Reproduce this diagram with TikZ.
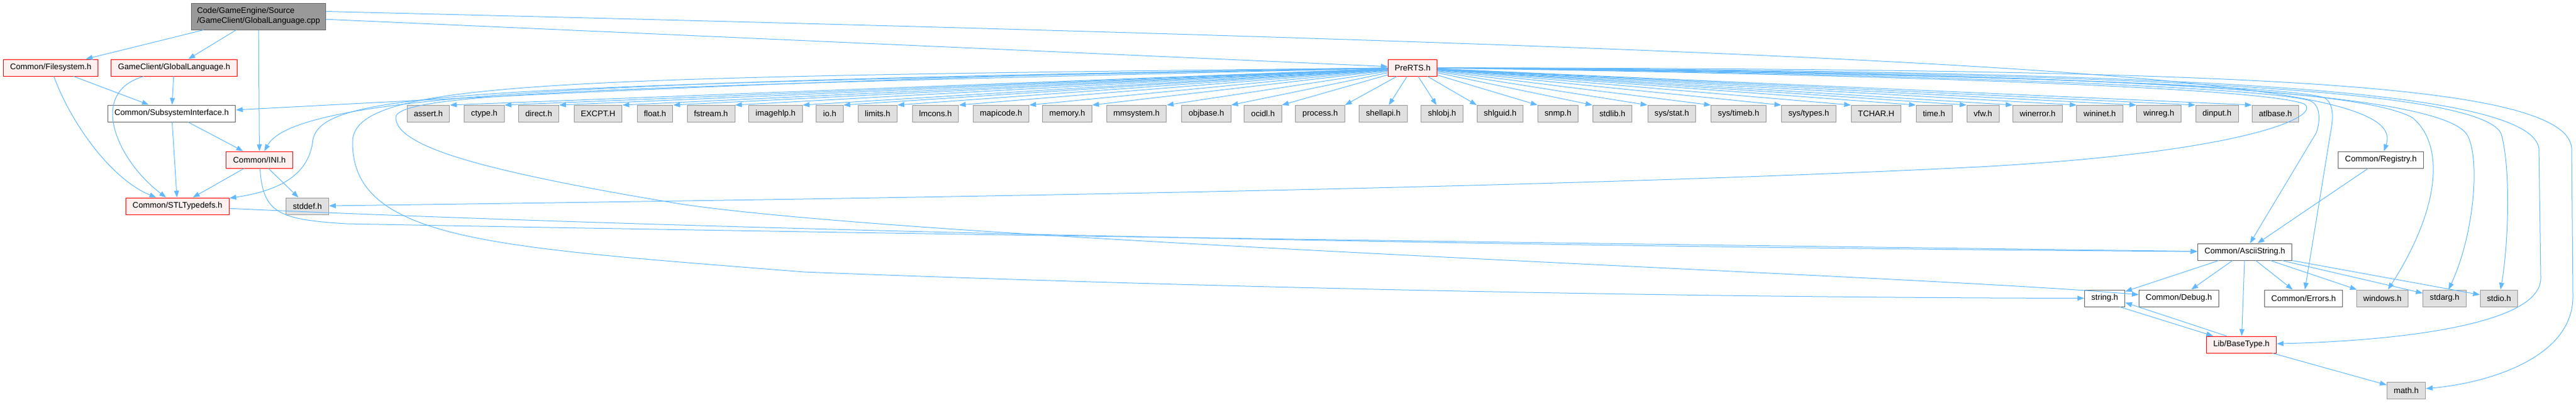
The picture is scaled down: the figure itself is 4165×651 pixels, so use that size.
\documentclass[tikz,border=0pt]{standalone}
\usepackage{fontspec}
\setmainfont{Liberation Sans}
\usetikzlibrary{arrows.meta}
\definecolor{edgeblue}{HTML}{63B8FF}
\definecolor{sysfill}{HTML}{E0E0E0}
\definecolor{sysborder}{HTML}{999999}
\definecolor{redfill}{HTML}{FFF0F0}
\definecolor{ownborder}{HTML}{666666}
\definecolor{rootfill}{HTML}{999999}
\begin{document}
\begin{tikzpicture}[x=1pt,y=-1pt,font=\fontsize{13.2}{16}\selectfont]
        \tikzstyle{hdr}=[draw,line width=1pt,rectangle,inner xsep=11pt,inner ysep=0pt,minimum height=27pt]
        \tikzstyle{sysfile}=[hdr,draw=sysborder,fill=sysfill]
        \tikzstyle{redfile}=[hdr,draw=red,fill=redfill]
        \tikzstyle{ownfile}=[hdr,draw=ownborder,fill=white]
        \tikzstyle{rootfile}=[hdr,draw=ownborder,fill=rootfill,align=left,inner xsep=9pt,minimum height=43pt]
        \tikzstyle{dep}=[draw=edgeblue,line width=1pt,-{Triangle[length=11pt,width=8pt]}]

        \useasboundingbox (0,0) rectangle (4165,651);

        \draw (418,26.5) node[rootfile] (cpp) {Code/GameEngine/Source\\/GameClient/GlobalLanguage.cpp};
        \draw (82,109.5) node[redfile] (fs) {Common/Filesystem.h};
        \draw (281.5,109.5) node[redfile] (gl) {GameClient/GlobalLanguage.h};
        \draw (2284,109.5) node[redfile] (pre) {PreRTS.h};
        \draw (277.5,183.5) node[ownfile] (si) {Common/SubsystemInterface.h};
        \draw (419.5,258.5) node[redfile] (ini) {Common/INI.h};
        \draw (3849.5,258.5) node[ownfile] (reg) {Common/Registry.h};
        \draw (287,333.5) node[redfile] (stl) {Common/STLTypedefs.h};
        \draw (497,333.5) node[sysfile] (stddef) {stddef.h};
        \draw (3629.5,407.5) node[ownfile] (ascii) {Common/AsciiString.h};
        \draw (3403,482.5) node[ownfile] (string) {string.h};
        \draw (3523,482.5) node[ownfile] (debug) {Common/Debug.h};
        \draw (3724.5,482.5) node[ownfile] (errors) {Common/Errors.h};
        \draw (3852,482.5) node[sysfile] (windows) {windows.h};
        \draw (3952.5,482.5) node[sysfile] (stdarg) {stdarg.h};
        \draw (4040.5,482.5) node[sysfile] (stdio) {stdio.h};
        \draw (3624,557.5) node[redfile] (basetype) {Lib/BaseType.h};
        \draw (3890.5,631.5) node[sysfile] (math) {math.h};

        \draw (692.5,184) node[sysfile] (assert) {assert.h};
        \draw (783,184) node[sysfile] (ctype) {ctype.h};
        \draw (871,184) node[sysfile] (direct) {direct.h};
        \draw (967,184) node[sysfile] (excpt) {EXCPT.H};
        \draw (1059,184) node[sysfile] (float) {float.h};
        \draw (1149.5,184) node[sysfile] (fstream) {fstream.h};
        \draw (1254,184) node[sysfile] (imagehlp) {imagehlp.h};
        \draw (1341.5,184) node[sysfile] (io) {io.h};
        \draw (1419,184) node[sysfile] (limits) {limits.h};
        \draw (1512.5,184) node[sysfile] (lmcons) {lmcons.h};
        \draw (1618.5,184) node[sysfile] (mapicode) {mapicode.h};
        \draw (1725.5,184) node[sysfile] (memory) {memory.h};
        \draw (1837.5,184) node[sysfile] (mmsystem) {mmsystem.h};
        \draw (1950.5,184) node[sysfile] (objbase) {objbase.h};
        \draw (2042,184) node[sysfile] (ocidl) {ocidl.h};
        \draw (2134.5,184) node[sysfile] (process) {process.h};
        \draw (2236.5,184) node[sysfile] (shellapi) {shellapi.h};
        \draw (2331.5,184) node[sysfile] (shlobj) {shlobj.h};
        \draw (2425.5,184) node[sysfile] (shlguid) {shlguid.h};
        \draw (2519,184) node[sysfile] (snmp) {snmp.h};
        \draw (2607,184) node[sysfile] (stdlib) {stdlib.h};
        \draw (2703,184) node[sysfile] (sysstat) {sys/stat.h};
        \draw (2811,184) node[sysfile] (systimeb) {sys/timeb.h};
        \draw (2924.5,184) node[sysfile] (systypes) {sys/types.h};
        \draw (3033.5,184) node[sysfile] (tchar) {TCHAR.H};
        \draw (3127,184) node[sysfile] (time) {time.h};
        \draw (3206,184) node[sysfile] (vfw) {vfw.h};
        \draw (3294.5,184) node[sysfile] (winerror) {winerror.h};
        \draw (3395,184) node[sysfile] (wininet) {wininet.h};
        \draw (3490.5,184) node[sysfile] (winreg) {winreg.h};
        \draw (3584.5,184) node[sysfile] (dinput) {dinput.h};
        \draw (3679,184) node[sysfile] (atlbase) {atlbase.h};

        \draw[dep] (cpp) -- (fs);
        \draw[dep] (cpp) -- (gl);
        \draw[dep] (cpp) -- (ini);
        \draw[dep] (cpp) -- (pre);
        \draw[dep] ([yshift=8pt]cpp.east) .. controls (3400,88) and (3895,130) .. (reg);

        \draw[dep] (fs) -- (si);
        \draw[dep] (fs) .. controls (115,200) and (180,290) .. (stl);
        \draw[dep] (gl) -- (si);
        \draw[dep] (gl) .. controls (140,150) and (190,260) .. (stl);
        \draw[dep] (si) -- (ini);
        \draw[dep] (si) -- (stl);
        \draw[dep] (ini) -- (stl);
        \draw[dep] (ini) -- (stddef);
        \draw[dep] (ini) .. controls (425,345) and (450,355) .. (560,362) .. controls (1500,380) and (3000,400) .. (ascii);
        \draw[dep] (stl) .. controls (1200,375) and (2500,400) .. (ascii);

        \draw[dep] (pre) .. controls (1500,120) and (900,150) .. (si);
        \draw[dep] (pre) .. controls (1000,130) and (480,150) .. (ini);
        \draw[dep] (pre) .. controls (700,140) and (510,150) .. (505,233) .. controls (495,290) and (440,310) .. (stl);
        \draw[dep] (pre) .. controls (3000,120) and (3650,140) .. (3725,168) .. controls (3755,185) and (3650,245) .. (3200,270) .. controls (2500,305) and (1500,320) .. (stddef);
        \draw[dep] (pre) .. controls (900,125) and (570,130) .. (570,230) .. controls (570,390) and (800,400) .. (1300,440) .. controls (2200,475) and (3000,482) .. (string);
        \draw[dep] (pre) .. controls (1000,140) and (640,150) .. (640,190) .. controls (640,240) and (800,280) .. (1100,330) .. controls (1500,390) and (3100,445) .. (debug);
        \draw[dep] (pre) .. controls (3000,118) and (3650,138) .. (3735,163) .. controls (3752,170) and (3752,195) .. (3745,215) -- (ascii);
        \draw[dep] (pre) .. controls (3000,117) and (3680,134) .. (3758,158) .. controls (3775,168) and (3772,195) .. (3768,215) -- (errors);
        \draw[dep] (pre) .. controls (3200,118) and (3800,135) .. (3900,190) .. controls (3950,230) and (3950,330) .. (windows);
        \draw[dep] (pre) .. controls (3300,118) and (3950,140) .. (3990,220) .. controls (4010,260) and (4000,380) .. (stdarg);
        \draw[dep] (pre) .. controls (3400,117) and (4030,140) .. (4045,220) .. controls (4060,280) and (4055,400) .. (stdio);
        \draw[dep] (pre) .. controls (3500,115) and (4090,140) .. (4105,240) -- (4108,450) .. controls (4108,530) and (3850,552) .. (basetype);
        \draw[dep] (pre) .. controls (3600,112) and (4150,130) .. (4158,240) -- (4160,480) .. controls (4160,580) and (4020,620) .. (math);

        \draw[dep] (pre) -- (assert.north east);
        \draw[dep] (pre) -- (ctype.north east);
        \draw[dep] (pre) -- (direct.north east);
        \draw[dep] (pre) -- (excpt.north east);
        \draw[dep] (pre) -- (float.north east);
        \draw[dep] (pre) -- (fstream.north east);
        \draw[dep] (pre) -- (imagehlp.north east);
        \draw[dep] (pre) -- (io.north east);
        \draw[dep] (pre) -- (limits.north east);
        \draw[dep] (pre) -- (lmcons.north east);
        \draw[dep] (pre) -- (mapicode.north east);
        \draw[dep] (pre) -- (memory.north east);
        \draw[dep] (pre) -- (mmsystem.north east);
        \draw[dep] (pre) -- (objbase.north east);
        \draw[dep] (pre) -- (ocidl.north east);
        \draw[dep] (pre) -- (process.north east);
        \draw[dep] (pre) -- (shellapi);
        \draw[dep] (pre) -- (shlobj);
        \draw[dep] (pre) -- (shlguid.north west);
        \draw[dep] (pre) -- (snmp.north west);
        \draw[dep] (pre) -- (stdlib.north west);
        \draw[dep] (pre) -- (sysstat.north west);
        \draw[dep] (pre) -- (systimeb.north west);
        \draw[dep] (pre) -- (systypes.north west);
        \draw[dep] (pre) -- (tchar.north west);
        \draw[dep] (pre) -- (time.north west);
        \draw[dep] (pre) -- (vfw.north west);
        \draw[dep] (pre) -- (winerror.north west);
        \draw[dep] (pre) -- (wininet.north west);
        \draw[dep] (pre) -- (winreg.north west);
        \draw[dep] (pre) -- (dinput.north west);
        \draw[dep] (pre) -- (atlbase.north west);

        \draw[dep] (reg) -- (ascii);
        \draw[dep] (ascii) -- (string);
        \draw[dep] (ascii) -- (debug);
        \draw[dep] (ascii) -- (errors);
        \draw[dep] (ascii) -- (windows);
        \draw[dep] (ascii) -- (stdarg);
        \draw[dep] (ascii) -- (stdio);
        \draw[dep] (ascii) -- (basetype);
        \draw[dep] (string.-30) -- (basetype.163);
        \draw[dep] (basetype.150) -- (string.-12);
        \draw[dep] (basetype) -- (math);

    \end{tikzpicture}
\end{document}
